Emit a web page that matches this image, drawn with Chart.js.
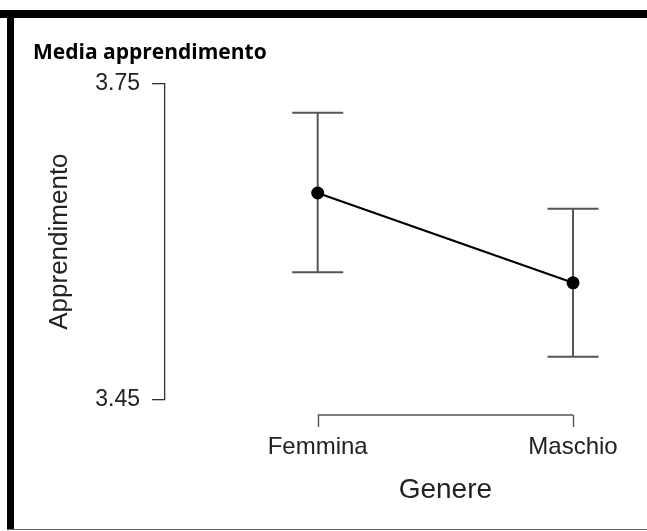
<!DOCTYPE html>
<html>
<head>
<meta charset="utf-8">
<script src="https://cdn.jsdelivr.net/npm/chart.js@4"></script>
<style>
  html, body { margin: 0; padding: 0; background: #fff; }
  #wrap { position: relative; width: 647px; height: 531px; overflow: hidden; }
  #chart { position: absolute; left: 0; top: 0; }
  .frame { position: absolute; background: #000; pointer-events: none; }
</style>
</head>
<body>
<div id="wrap">
  <canvas id="chart" width="647" height="531"></canvas>
  <div class="frame" style="left:0;top:10px;width:647px;height:8px;"></div>
  <div class="frame" style="left:7px;top:10px;width:7px;height:520px;"></div>
  <div class="frame" style="left:7px;top:529px;width:640px;height:1px;background:#666;"></div>
</div>
<script>
const categories = ["Femmina", "Maschio"];
const means = [3.646, 3.561];
const ciLower = [3.571, 3.491];
const ciUpper = [3.722, 3.631];
const yTicks = [3.45, 3.75];

const chartTitle = "Media apprendimento";
const xTitle = "Genere";
const yTitle = "Apprendimento";

// R style x axis: bracket between first and last category, labels + title below
const xAxisBracket = {
  id: "xAxisBracket",
  afterDraw(chart) {
    const { ctx, chartArea } = chart;
    const xs = chart.scales.x;
    const first = xs.getPixelForValue(0);
    const last = xs.getPixelForValue(categories.length - 1);
    const y0 = chartArea.bottom + 15;

    ctx.save();
    ctx.strokeStyle = "#555";
    ctx.lineWidth = 1.4;
    ctx.beginPath();
    ctx.moveTo(first, y0);
    ctx.lineTo(last, y0);
    categories.forEach((c, i) => {
      const px = Math.round(xs.getPixelForValue(i)) + 0.5;
      ctx.moveTo(px, y0);
      ctx.lineTo(px, y0 + 12);
    });
    ctx.stroke();

    ctx.fillStyle = "#222";
    ctx.textAlign = "center";
    ctx.textBaseline = "middle";
    ctx.font = "24px 'Liberation Sans', Arial, sans-serif";
    categories.forEach((c, i) => {
      ctx.fillText(c, xs.getPixelForValue(i), y0 + 32);
    });
    ctx.font = "28px 'Liberation Sans', Arial, sans-serif";
    ctx.fillText(xTitle, (first + last) / 2, y0 + 75);
    ctx.restore();
  }
};

const whiskers = categories.map((c, i) => ({
  type: "line",
  data: [{ x: i, y: ciLower[i] }, { x: i, y: ciUpper[i] }],
  borderColor: "#555",
  borderWidth: 2,
  pointRadius: 0,
  order: 3
}));

const caps = {
  type: "scatter",
  data: categories.flatMap((c, i) => [{ x: i, y: ciLower[i] }, { x: i, y: ciUpper[i] }]),
  pointStyle: "line",
  pointRadius: 25.5,
  borderColor: "#555",
  borderWidth: 2,
  order: 2
};

new Chart(document.getElementById("chart"), {
  type: "line",
  data: {
    datasets: [
      {
        type: "line",
        data: categories.map((c, i) => ({ x: i, y: means[i] })),
        borderColor: "#000",
        borderWidth: 2.2,
        pointRadius: 6.5,
        pointBackgroundColor: "#000",
        pointBorderWidth: 0,
        order: 1
      },
      caps,
      ...whiskers
    ]
  },
  options: {
    responsive: false,
    animation: false,
    clip: false,
    layout: { padding: { left: 33, right: 20, top: 0, bottom: 131 } },
    plugins: {
      legend: { display: false },
      tooltip: { enabled: false },
      title: {
        display: true,
        text: chartTitle,
        align: "start",
        color: "#000",
        font: { family: "'Open Sans', sans-serif", size: 21, weight: "bold" },
        padding: { top: 40, bottom: 18 }
      }
    },
    scales: {
      x: {
        type: "linear",
        display: false,
        min: -0.598,
        max: 1.182
      },
      y: {
        min: 3.45,
        max: 3.75,
        afterFit(scale) { scale.width = 132; },
        afterBuildTicks(scale) { scale.ticks = yTicks.map((v) => ({ value: v })); },
        ticks: {
          padding: 12,
          color: "#222",
          font: { family: "'Liberation Sans', Arial, sans-serif", size: 23 },
          callback: (v) => Number(v).toFixed(2)
        },
        grid: { drawOnChartArea: false, tickLength: 13, color: "#333", lineWidth: 1.3 },
        border: { color: "#333", width: 1.3 },
        title: {
          display: true,
          text: yTitle,
          color: "#222",
          font: { family: "'Liberation Sans', Arial, sans-serif", size: 26 },
          padding: { top: 11, bottom: 0 }
        }
      }
    }
  },
  plugins: [xAxisBracket]
});
</script>
</body>
</html>
